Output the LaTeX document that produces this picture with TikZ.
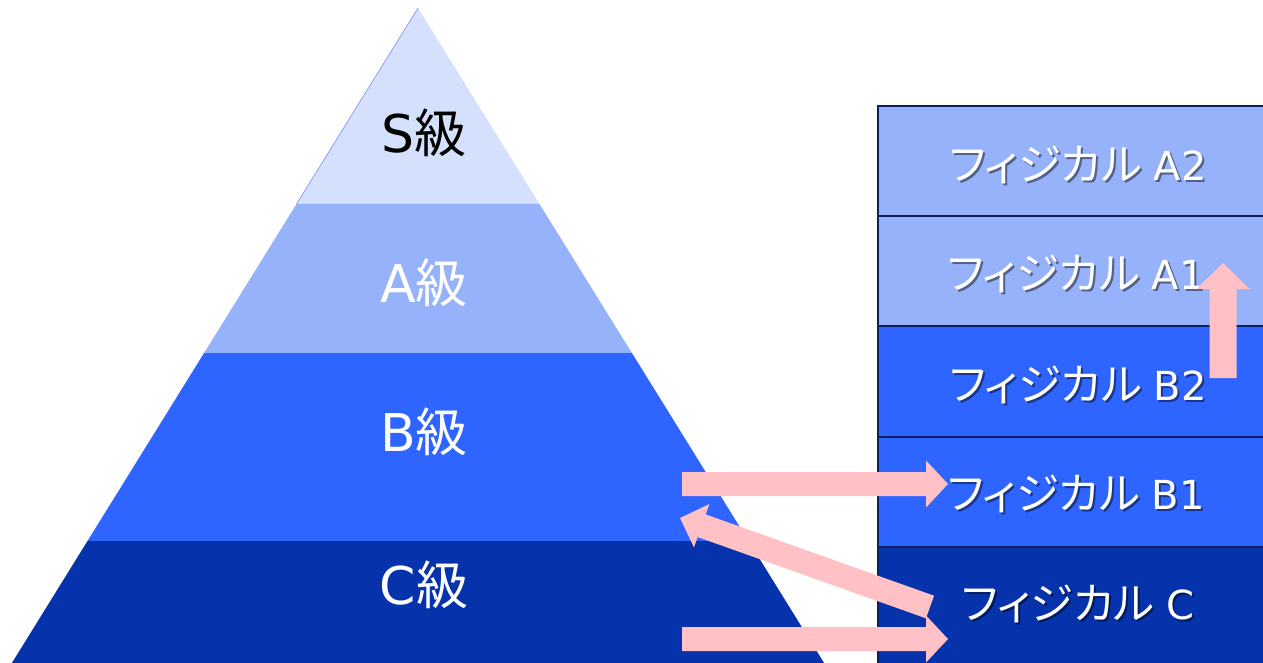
\documentclass[tikz,border=0pt]{standalone}
\usepackage{fontspec}
\setmainfont{DejaVu Sans}
\newfontfamily\jp{Noto Sans CJK JP}
\newfontfamily\jpp[RawFeature=+palt]{Noto Sans CJK JP}
\usetikzlibrary{calc}
\definecolor{lvS}{RGB}{213,224,252}
\definecolor{lvA}{RGB}{149,178,250}
\definecolor{lvB}{RGB}{46,100,255}
\definecolor{lvC}{RGB}{6,51,171}
\definecolor{boxline}{RGB}{12,32,96}
\definecolor{arrowpink}{RGB}{255,193,197}
\newcommand\blockarrow[5]{% start, end, shaft half, head half, head length
  \coordinate (hb) at ($(#2)!#5!(#1)$);
  \fill[arrowpink] ($(#1)!#3!90:(#2)$) -- ($(hb)!#3!-90:(#1)$) -- ($(hb)!#4!-90:(#1)$) -- (#2)
    -- ($(hb)!#4!90:(#1)$) -- ($(hb)!#3!90:(#1)$) -- ($(#1)!#3!-90:(#2)$) -- cycle;}
\tikzset{
  lvtext/.style={font=\fontsize{52}{60}\selectfont, inner sep=0pt},
  boxtext/.style={font=\fontsize{40}{48}\selectfont, text=white, inner sep=0pt},
  shadowtext/.style={font=\fontsize{40}{48}\selectfont, text=black, opacity=0.45, inner sep=0pt},
  phys/.style={draw=boxline, line width=1.6pt},
}
\newcommand\kata{{\jpp\fontsize{43.5}{50}\selectfont フィジカル}\hspace{0.3em}}
\newcommand\physlabel[3]{% name, position, text
  \node[shadowtext] at ($(#2)+(2,2)$) {\kata #3};
  \node[boxtext] (#1) at (#2) {\kata #3};}
\begin{document}
\begin{tikzpicture}[x=1pt,y=-1pt]
\useasboundingbox (0,0) rectangle (1263,663);
% pyramid layers
\fill[lvS] (418,8) -- (539.5,204) -- (296.5,204) -- cycle;
\fill[lvA] (296.5,204) -- (539.5,204) -- (631.9,353) -- (204.1,353) -- cycle;
\fill[lvB] (204.1,353) -- (631.9,353) -- (748.5,541) -- (87.5,541) -- cycle;
\fill[lvC] (87.5,541) -- (748.5,541) -- (824.1,663) -- (11.9,663) -- cycle;
\draw[lvA!80!blue, line width=0.6pt] (296.5,204) -- (418,8);
\node[lvtext, text=black] (S) at (424,133) {S{\jp 級}};
\node[lvtext, text=white] (A) at (424,283) {A{\jp 級}};
\node[lvtext, text=white] (B) at (424,432) {B{\jp 級}};
\node[lvtext, text=white] (C) at (424,585) {C{\jp 級}};
% physical boxes
\fill[lvA] (878,106) rectangle (1275,326);
\fill[lvB] (878,326) rectangle (1275,547);
\fill[lvC] (878,547) rectangle (1275,670);
\draw[phys] (878,670) -- (878,106) -- (1275,106);
\foreach \yy in {216,326,437,547} \draw[phys] (878,\yy) -- (1275,\yy);
\physlabel{pA2}{1078,165}{A2}
\physlabel{pA1}{1076,274}{A1}
\physlabel{pB2}{1078,385}{B2}
\physlabel{pB1}{1076,494}{B1}
\physlabel{pC}{1078,604}{C}
% arrows
\coordinate (a1s) at (682,484); \coordinate (a1e) at (948,484);
\coordinate (a2s) at (682,639); \coordinate (a2e) at (948,639);
\coordinate (a3s) at (930,607); \coordinate (a3e) at (680,518);
\coordinate (a4s) at (1223,378); \coordinate (a4e) at (1223,263);
\blockarrow{a1s}{a1e}{12pt}{23.5pt}{22pt}
\blockarrow{a2s}{a2e}{12pt}{23.5pt}{22pt}
\blockarrow{a3s}{a3e}{12pt}{23pt}{23pt}
\blockarrow{a4s}{a4e}{13.5pt}{26.5pt}{26pt}
\end{tikzpicture}
\end{document}
